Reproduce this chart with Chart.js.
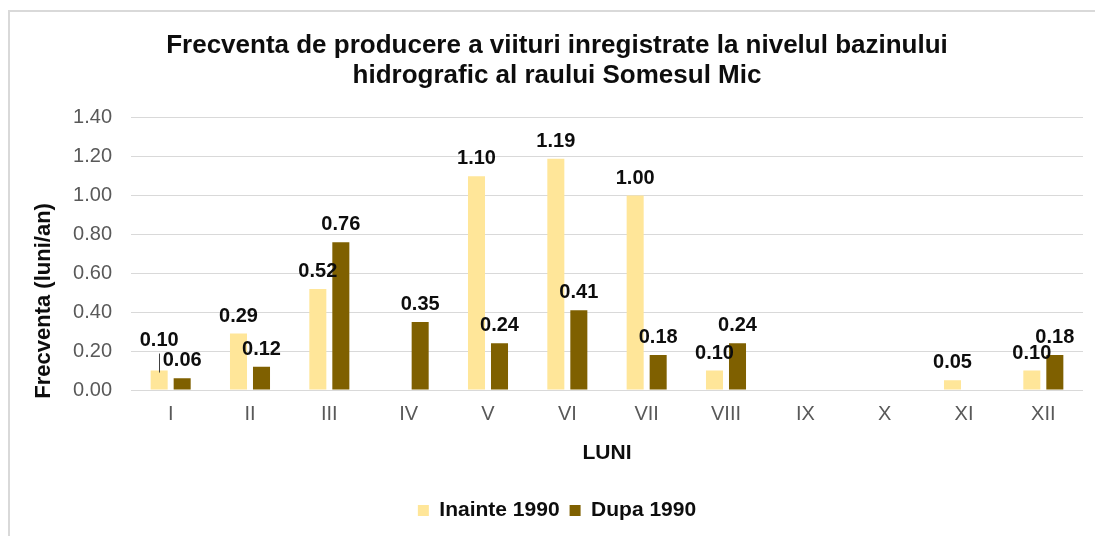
<!DOCTYPE html>
<html>
<head>
<meta charset="utf-8">
<script src="https://cdn.jsdelivr.net/npm/chart.js@4/dist/chart.umd.min.js"></script>
<style>
    html, body { margin: 0; padding: 0; background: #fff; overflow: hidden; }
    #box {
        position: absolute; left: 8px; top: 10px; width: 1100px; height: 540px;
        border-left: 2px solid #d9d9d9; border-top: 2px solid #d9d9d9;
    }
    #myChart { position: absolute; left: 0; top: 0; }
</style>
</head>
<body>
<div id="box"><canvas id="myChart" width="1096" height="524"></canvas></div>
<script>
// Daten
const luni = ['I', 'II', 'III', 'IV', 'V', 'VI', 'VII', 'VIII', 'IX', 'X', 'XI', 'XII'];
const inainte1990 = [0.10, 0.29, 0.52, 0, 1.10, 1.19, 1.00, 0.10, 0, 0, 0.05, 0.10];
const dupa1990 = [0.06, 0.12, 0.76, 0.35, 0.24, 0.41, 0.18, 0.24, 0, 0, 0, 0.18];
const yTickLabels = ['0.00', '0.20', '0.40', '0.60', '0.80', '1.00', '1.20', '1.40'];

const fontFamily = '"Liberation Sans", Arial, sans-serif';
const textColor = '#0d0d0d';

document.addEventListener('DOMContentLoaded', () => {
    Chart.defaults.font.family = fontFamily;
    const ctx = document.getElementById('myChart').getContext('2d');

    // Werte ueber den Balken (the first label of "I" sits higher, with a leader line)
    const valueLabels = {
        id: 'valueLabels',
        afterDatasetsDraw(chart) {
            const c = chart.ctx;
            c.save();
            c.font = `bold 20px ${fontFamily}`;
            c.fillStyle = textColor;
            c.textAlign = 'center';
            c.textBaseline = 'alphabetic';
            chart.data.datasets.forEach((ds, di) => {
                chart.getDatasetMeta(di).data.forEach((bar, i) => {
                    const v = ds.data[i];
                    if (!v) return;
                    let lift = 12;
                    if (di === 0 && i === 0) {
                        lift = 25;
                        c.strokeStyle = '#404040';
                        c.lineWidth = 1;
                        c.beginPath();
                        c.moveTo(Math.round(bar.x) + 0.5, bar.y + 2);
                        c.lineTo(Math.round(bar.x) + 0.5, bar.y - 17);
                        c.stroke();
                    }
                    c.fillText(v.toFixed(2), bar.x, bar.y - lift);
                });
            });
            c.restore();
        }
    };

    // Titel der Y-Achse
    const yTitle = {
        id: 'yTitle',
        afterDraw(chart) {
            const c = chart.ctx;
            const area = chart.chartArea;
            c.save();
            c.translate(34, (area.top + area.bottom) / 2 + 47);
            c.rotate(-Math.PI / 2);
            c.font = `bold 22px ${fontFamily}`;
            c.fillStyle = textColor;
            c.textAlign = 'center';
            c.textBaseline = 'middle';
            c.fillText('Frecventa (luni/an)', 0, 0);
            c.restore();
        }
    };

    const data = {
        labels: luni,
        datasets: [
            {
                label: 'Inainte 1990',
                data: inainte1990,
                backgroundColor: '#FFE699',
                categoryPercentage: 0.58,
                barPercentage: 0.74
            },
            {
                label: 'Dupa 1990',
                data: dupa1990,
                backgroundColor: '#7F6000',
                categoryPercentage: 0.58,
                barPercentage: 0.74
            }
        ]
    };

    const config = {
        type: 'bar',
        data: data,
        options: {
            responsive: false,
            animation: false,
            layout: { padding: { left: 21, right: 23, top: 0, bottom: 5 } },
            plugins: {
                title: {
                    display: true,
                    text: ['Frecventa de producere a viituri inregistrate la nivelul bazinului',
                           'hidrografic al raului Somesul Mic'],
                    font: { size: 26, weight: 'bold', lineHeight: 1.15 },
                    color: textColor,
                    padding: { top: 19, bottom: 27 }
                },
                legend: {
                    position: 'bottom',
                    labels: {
                        boxWidth: 11,
                        boxHeight: 11,
                        padding: 10,
                        color: textColor,
                        font: { size: 21, weight: 'bold' }
                    }
                },
                tooltip: { enabled: false }
            },
            scales: {
                x: {
                    grid: { display: false, drawTicks: false },
                    border: { display: false },
                    ticks: { color: '#595959', font: { size: 20 }, padding: 12 },
                    title: {
                        display: true,
                        text: 'LUNI',
                        color: textColor,
                        font: { size: 21, weight: 'bold' },
                        padding: { top: 0, bottom: 24 }
                    },
                    afterFit: (scale) => { scale.height = 100; }
                },
                y: {
                    min: 0,
                    max: 1.4,
                    grid: { color: '#d9d9d9', drawTicks: false },
                    border: { display: false },
                    ticks: {
                        stepSize: 0.2,
                        color: '#595959',
                        font: { size: 20 },
                        padding: 19,
                        callback: (v, i) => yTickLabels[i]
                    },
                    afterFit: (scale) => { scale.width = 100; }
                }
            }
        },
        plugins: [valueLabels, yTitle]
    };

    new Chart(ctx, config);
});
</script>
</body>
</html>
